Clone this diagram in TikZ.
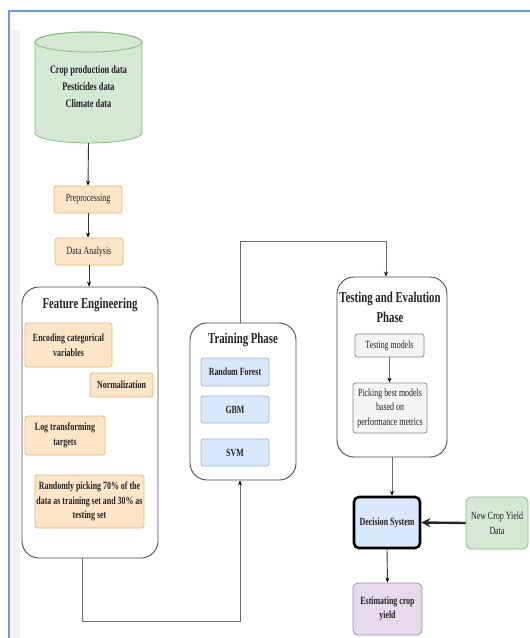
\documentclass[tikz,border=0pt]{standalone}
\usepackage{fontspec}
\setmainfont{Liberation Serif}[FakeStretch=0.72]
\usetikzlibrary{arrows.meta,calc}
\definecolor{grnF}{HTML}{D5E8D4}\definecolor{grnD}{HTML}{8DBA7E}
\definecolor{orgF}{HTML}{FDE5C8}\definecolor{orgD}{HTML}{E3B77C}
\definecolor{bluF}{HTML}{DAE8FC}\definecolor{bluD}{HTML}{9DB5D8}
\definecolor{purF}{HTML}{E6DAEC}\definecolor{purD}{HTML}{A98CB8}
\definecolor{gryF}{HTML}{F4F4F4}\definecolor{gryD}{HTML}{8A8A8A}
\definecolor{frame}{HTML}{6A9BD8}\definecolor{band}{HTML}{F2F3F5}
\definecolor{txt}{HTML}{222222}\definecolor{wire}{HTML}{6A6A6A}
\tikzset{
  box/.style={rectangle, rounded corners=2.5pt, line width=0.8pt, inner sep=1pt, align=center, text=txt, font=\fontsize{11}{14.5}\selectfont},
  orgbox/.style={box, fill=orgF, draw=orgD, font=\bfseries\fontsize{11}{14.5}\selectfont},
  orgreg/.style={box, fill=orgF, draw=orgD},
  blubox/.style={box, fill=bluF, draw=bluD, font=\bfseries\fontsize{11}{14.5}\selectfont},
  grybox/.style={box, fill=gryF, draw=gryD},
  container/.style={rectangle, rounded corners=17pt, draw=black!70, line width=0.9pt, fill=white},
  ptitle/.style={font=\bfseries\fontsize{15}{20}\selectfont, text=txt, align=center, inner sep=0pt},
  wirearrow/.style={draw=wire, line width=0.9pt, -{Stealth[length=5pt,width=4pt,black]}},
  wireline/.style={draw=wire, line width=0.9pt},
}
\begin{document}
\begin{tikzpicture}[x=1pt,y=-1pt]
\useasboundingbox (0,0) rectangle (530,638);
\fill[white] (0,0) rectangle (530,638);
% frame
\fill[band] (11,30) rectangle (20,638);
\draw[frame, line width=2pt] (9,638) -- (9,11) -- (530,11);

% cylinder
\path[fill=grnF, draw=grnD, line width=0.8pt] (35,42) -- (35,133)
  arc[start angle=180, end angle=360, x radius=53.5pt, y radius=10pt] -- (142,42)
  arc[start angle=0, end angle=180, x radius=53.5pt, y radius=10pt] -- cycle;
\draw[grnD, line width=0.8pt] (88.5,42) ellipse[x radius=53.5pt, y radius=10pt];
\node[inner sep=0pt, minimum width=107, minimum height=113, align=center, text=txt,
  font=\bfseries\fontsize{11.5}{17}\selectfont] (db) at (88.5,86.5)
  {\raisebox{-6pt}{\parbox{104pt}{\centering Crop production data\\Pesticides data\\Climate data}}};

\node[orgreg, minimum width=68, minimum height=27] (pre) at (88,199.5) {Preprocessing};
\node[orgreg, minimum width=68, minimum height=27] (da) at (89,251.5) {Data Analysis};

% Feature engineering
\node[container, minimum width=136, minimum height=271] (fe) at (90,422.5) {};
\node[ptitle] (fet) at (90,305) {Feature Engineering};
\node[orgbox, minimum width=87, minimum height=44] (enc) at (68.5,345) {Encoding categorical\\variables};
\node[orgbox, minimum width=63, minimum height=24] (norm) at (121.5,385) {Normalization};
\node[orgbox, minimum width=80, minimum height=39] (log) at (65,435.5) {Log transforming\\targets};
\node[orgbox, minimum width=109, minimum height=53] (rand) at (89.5,501.5) {Randomly picking 70\% of the\\data as training set and 30\% as\\testing set};

% Training
\node[container, minimum width=106, minimum height=157] (tr) at (243,401.5) {};
\node[ptitle] (trt) at (243,340) {Training Phase};
\node[blubox, minimum width=68, minimum height=28] (rf) at (235,372) {Random Forest};
\node[blubox, minimum width=68, minimum height=27] (gbm) at (235,409.5) {GBM};
\node[blubox, minimum width=68, minimum height=27] (svm) at (235,452.5) {SVM};

% Testing
\node[container, minimum width=110, minimum height=180] (te) at (392,367) {};
\node[ptitle] (tet) at (390,307) {Testing and Evalution\\Phase};
\node[grybox, minimum width=69, minimum height=23] (tm) at (389.5,345.5) {Testing models};
\node[grybox, minimum width=74, minimum height=50] (pick) at (390,408) {Picking best models\\based on\\performance metrics};

% Decision
\node[box, fill=bluF, draw=black, line width=2.6pt, rounded corners=5pt, minimum width=66, minimum height=51,
  font=\bfseries\fontsize{11}{14.5}\selectfont] (dec) at (387,522.5) {Decision System};
\node[box, fill=grnF, draw=grnD, rounded corners=5pt, minimum width=62, minimum height=52] (new) at (497,523) {New Crop Yield\\Data};
\node[box, fill=purF, draw=purD, rounded corners=5pt, minimum width=69, minimum height=52,
  font=\bfseries\fontsize{11}{14.5}\selectfont] (est) at (387.5,609) {Estimating crop\\yield};

% connectors
\draw[wirearrow, draw=black!80] (db.south) -- (pre.north);
\draw[wirearrow, draw=black!80] (pre.south) -- (pre.south |- da.north);
\draw[wirearrow, draw=black!80] (da.south) -- (da.south |- fe.north);
\draw[wirearrow] ([xshift=-8pt]fe.south) -- ++(0,63) -| ([xshift=-3pt]tr.south);
\draw[wirearrow] ([xshift=-3pt]tr.north) -- ++(0,-81) -| ([xshift=-6pt]te.north);
\draw[wirearrow] (tm.south) -- (tm.south |- pick.north);
\draw[wirearrow] (te.south) -- (te.south |- dec.north);
\draw[wirearrow, draw=black!80] (dec.south) -- (est.north);
\draw[draw=black!85, line width=2.4pt, -{Stealth[length=9pt,width=9pt]}] (new.west) -- (dec.east);
\end{tikzpicture}
\end{document}
